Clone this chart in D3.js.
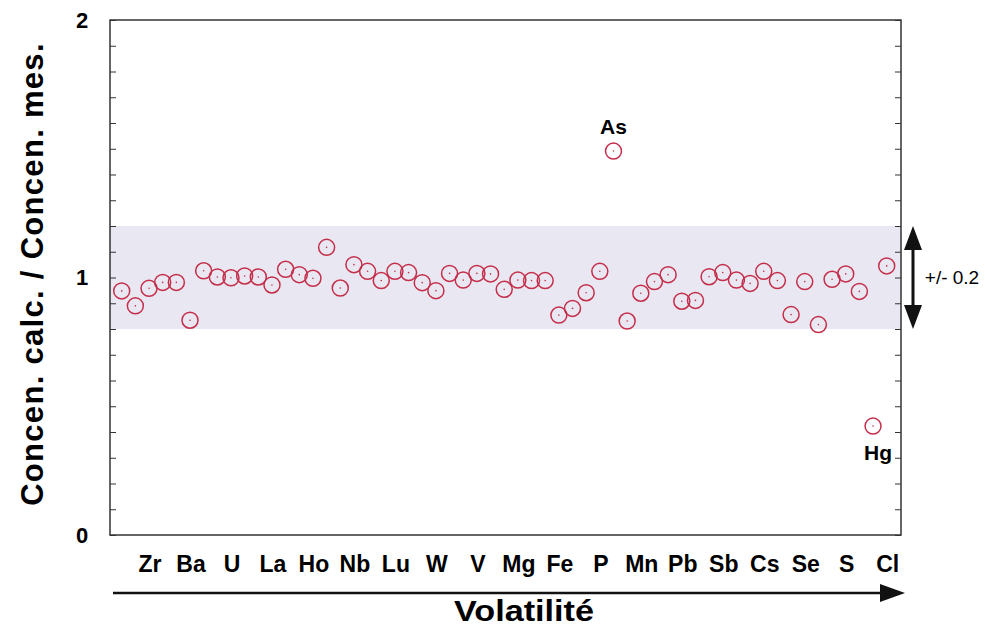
<!DOCTYPE html>
<html lang="fr">
<head>
<meta charset="UTF-8">
<script src="https://d3js.org/d3.v7.min.js"></script>
<title>Concen. calc. / Concen. mes.</title>
<style>
  body { margin: 0; background: #fff; }
  text { font-family: "Liberation Sans", Arial, sans-serif; }
</style>
</head>
<body>
<div id="container"></div>
<script>

// rapport concentration calculée / mesurée, un point par élément (ordre de volatilité)
var ratios = [
  0.948, 0.890, 0.958, 0.981, 0.981, 0.834, 1.026, 1.002, 0.999, 1.006,
  1.002, 0.971, 1.032, 1.011, 0.997, 1.117, 0.959, 1.050, 1.024, 0.988,
  1.024, 1.019, 0.980, 0.949, 1.016, 0.990, 1.016, 1.014, 0.954, 0.990,
  0.988, 0.988, 0.854, 0.880, 0.941, 1.024, 1.491, 0.831, 0.939, 0.984,
  1.011, 0.908, 0.911, 1.003, 1.019, 0.990, 0.977, 1.024, 0.988, 0.856,
  0.984, 0.817, 0.993, 1.014, 0.946, 0.423, 1.045
];

// étiquettes de l'axe x (un élément sur trois)
var tickLabels = ["Zr", "Ba", "U", "La", "Ho", "Nb", "Lu", "W", "V", "Mg",
  "Fe", "P", "Mn", "Pb", "Sb", "Cs", "Se", "S", "Cl"];
var tickIndex = [2, 5, 8, 11, 14, 17, 20, 23, 26, 29, 32, 35, 38, 41, 44, 47, 50, 53, 56];

// points annotés
var outlierNames = ["As", "Hg"];
var outlierIndex = [36, 55];

var yMajor = [0, 1, 2];
var band = [0.8, 1.2];

var W = 985, H = 630;
var margin = { top: 20, right: 84, bottom: 95, left: 110 },
    width = W - margin.left - margin.right,
    height = H - margin.top - margin.bottom;

var x = d3.scaleLinear().domain([0, ratios.length - 1]).range([11.7, width - 14.3]);
var y = d3.scaleLinear().domain([0, 2]).range([height, 0]);

var root = d3.select("#container").append("svg")
    .attr("width", W)
    .attr("height", H);

var svg = root.append("g")
    .attr("transform", "translate(" + margin.left + "," + margin.top + ")");

// bande +/- 0.2
svg.append("rect")
    .attr("x", 0)
    .attr("y", y(band[1]))
    .attr("width", width)
    .attr("height", y(band[0]) - y(band[1]))
    .attr("fill", "#e9e7f1");

// cadre
svg.append("rect")
    .attr("x", 0).attr("y", 0)
    .attr("width", width).attr("height", height)
    .attr("fill", "none")
    .attr("stroke", "#333")
    .attr("stroke-width", 1.5);

// graduations mineures gauche et droite, vers l'intérieur
var minor = d3.range(0, 21).map(function (d) { return d / 10; });
svg.append("g")
    .call(d3.axisRight(y).tickValues(minor).tickSize(6).tickFormat(""))
    .call(function (g) { g.select(".domain").remove(); })
    .selectAll("line").attr("stroke", "#333");
svg.append("g")
    .attr("transform", "translate(" + width + ",0)")
    .call(d3.axisLeft(y).tickValues(minor).tickSize(6).tickFormat(""))
    .call(function (g) { g.select(".domain").remove(); })
    .selectAll("line").attr("stroke", "#333");

// étiquettes majeures de l'axe y
svg.selectAll(".ylab")
    .data(yMajor)
    .enter().append("text")
    .attr("class", "ylab")
    .attr("x", -28)
    .attr("y", function (d) { return y(d); })
    .attr("dy", "0.36em")
    .attr("text-anchor", "middle")
    .attr("font-size", 22)
    .attr("font-weight", "bold")
    .text(function (d) { return d; });

// points
var pts = svg.append("g").selectAll("g")
    .data(ratios)
    .enter().append("g")
    .attr("transform", function (d, i) { return "translate(" + x(i) + "," + y(d) + ")"; });
pts.append("circle")
    .attr("r", 8)
    .attr("fill", "none")
    .attr("stroke", "#c42e4a")
    .attr("stroke-width", 1.5);
pts.append("circle")
    .attr("r", 0.8)
    .attr("fill", "#c42e4a");

// As et Hg
svg.selectAll(".outlier")
    .data(outlierNames)
    .enter().append("text")
    .attr("class", "outlier")
    .attr("x", function (d, i) { return x(outlierIndex[i]) + (d === "Hg" ? 5 : 0); })
    .attr("y", function (d, i) {
        var v = ratios[outlierIndex[i]];
        return d === "As" ? y(v) - 17 : y(v) + 34;
    })
    .attr("text-anchor", "middle")
    .attr("font-size", 21)
    .attr("font-weight", "bold")
    .text(function (d) { return d; });

// noms des éléments
svg.selectAll(".xlab")
    .data(tickLabels)
    .enter().append("text")
    .attr("class", "xlab")
    .attr("x", function (d, i) { return x(tickIndex[i]) + 1; })
    .attr("y", height + 37)
    .attr("text-anchor", "middle")
    .attr("font-size", 23)
    .attr("font-weight", "bold")
    .text(function (d) { return d; });

// flèche de volatilité
root.append("line")
    .attr("x1", 113).attr("x2", 884)
    .attr("y1", 593).attr("y2", 593)
    .attr("stroke", "#111")
    .attr("stroke-width", 2.5);
root.append("path")
    .attr("d", "M880,584 L905,593 L880,602 Z")
    .attr("fill", "#111");
root.append("text")
    .attr("x", 454)
    .attr("y", 621)
    .attr("font-size", 29)
    .attr("font-weight", "bold")
    .attr("textLength", 140)
    .attr("lengthAdjust", "spacingAndGlyphs")
    .text("Volatilité");

// titre de l'axe y
root.append("text")
    .attr("transform", "translate(43,274) rotate(-90)")
    .attr("text-anchor", "middle")
    .attr("font-size", 31)
    .attr("font-weight", "bold")
    .attr("letter-spacing", 1.3)
    .text("Concen. calc. / Concen. mes.");

// double flèche +/- 0.2
var ax = margin.left + width + 12;
var yTop = margin.top + y(band[1]), yBot = margin.top + y(band[0]);
root.append("line")
    .attr("x1", ax).attr("x2", ax)
    .attr("y1", yTop + 20).attr("y2", yBot - 20)
    .attr("stroke", "#111")
    .attr("stroke-width", 3);
root.append("path")
    .attr("d", "M" + ax + "," + yTop + " l9,24 l-18,0 Z")
    .attr("fill", "#111");
root.append("path")
    .attr("d", "M" + ax + "," + yBot + " l9,-24 l-18,0 Z")
    .attr("fill", "#111");
root.append("text")
    .attr("x", 952)
    .attr("y", margin.top + y(1))
    .attr("dy", "0.36em")
    .attr("text-anchor", "middle")
    .attr("font-size", 19)
    .text("+/- 0.2");

</script>
</body>
</html>
